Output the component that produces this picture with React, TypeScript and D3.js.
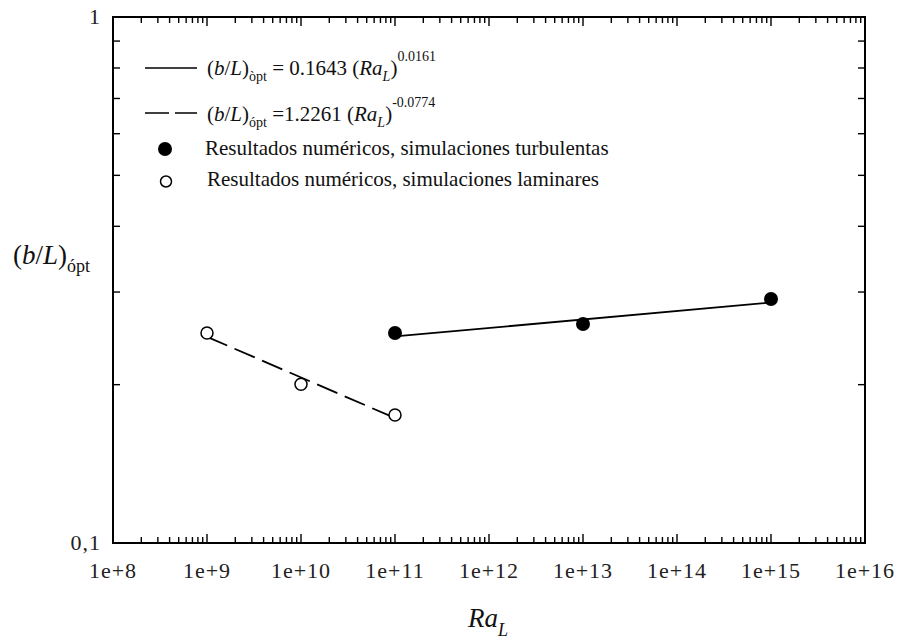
import React from "react";
import * as d3 from "d3";

// ---- data ----
const turbRa = [1e11, 1e13, 1e15];
const turbVal = [0.2507, 0.2609, 0.291];
const lamRa = [1e9, 1e10, 1e11];
const lamVal = [0.2507, 0.2003, 0.1751];
const turbFitRa = [1e11, 1e15];
const turbFitVal = [0.247, 0.2866];
const lamFitRa = [1e9, 1e11];
const lamFitVal = [0.2466, 0.1728];
const xTickValues = [1e8, 1e9, 1e10, 1e11, 1e12, 1e13, 1e14, 1e15, 1e16];
const xTickLabels = ["1e+8", "1e+9", "1e+10", "1e+11", "1e+12", "1e+13", "1e+14", "1e+15", "1e+16"];
const yTickValues = [0.1, 1];
const yTickLabels = ["0,1", "1"];
const legendTurb = "Resultados numéricos, simulaciones turbulentas";
const legendLam = "Resultados numéricos, simulaciones laminares";

const W = 900, H = 640;
const L = 113, R = 865, T = 17, B = 543;
const FONT = "'Liberation Serif', 'Times New Roman', serif";

export default function App() {
  const x = d3.scaleLog().domain([1e8, 1e16]).range([L, R]);
  const y = d3.scaleLog().domain([0.1, 1]).range([B, T]);
  const line = d3.line<[number, number]>().x((d) => x(d[0])).y((d) => y(d[1]));

  const xMinor: number[] = [];
  for (let e = 8; e < 16; e++) for (let k = 2; k <= 9; k++) xMinor.push(k * Math.pow(10, e));
  const yMinor = d3.range(2, 10).map((k) => k / 10);

  const turbFit = line(turbFitRa.map((r, i) => [r, turbFitVal[i]] as [number, number])) || "";
  const lamFit = line(lamFitRa.map((r, i) => [r, lamFitVal[i]] as [number, number])) || "";

  return (
    <svg width={W} height={H} style={{ position: "absolute", left: 0, top: 0, background: "#fff" }} fontFamily={FONT}>
      <rect x={0} y={0} width={W} height={H} fill="#fff" />
      {/* ticks */}
      <g stroke="#000" strokeWidth={1.4}>
        {xMinor.map((v, i) => (
          <g key={"xm" + i}>
            <line x1={x(v)} x2={x(v)} y1={B} y2={B - 6} />
            <line x1={x(v)} x2={x(v)} y1={T} y2={T + 6} />
          </g>
        ))}
        {xTickValues.map((v, i) => (
          <g key={"xM" + i}>
            <line x1={x(v)} x2={x(v)} y1={B} y2={B - 9} />
            <line x1={x(v)} x2={x(v)} y1={T} y2={T + 9} />
          </g>
        ))}
        {yMinor.map((v, i) => (
          <g key={"ym" + i}>
            <line x1={L} x2={L + 7} y1={y(v)} y2={y(v)} />
            <line x1={R} x2={R - 7} y1={y(v)} y2={y(v)} />
          </g>
        ))}
      </g>
      <rect x={L} y={T} width={R - L} height={B - T} fill="none" stroke="#000" strokeWidth={2} />

      {/* tick labels */}
      <g fontSize={22} fill="#222" letterSpacing={1}>
        {xTickValues.map((v, i) => (
          <text key={"xl" + i} x={x(v)} y={578} textAnchor="middle">{xTickLabels[i]}</text>
        ))}
        {yTickValues.map((v, i) => (
          <text key={"yl" + i} x={L - 12} y={y(v) + 7} textAnchor="end">{yTickLabels[i]}</text>
        ))}
      </g>

      {/* fits */}
      <path d={turbFit} fill="none" stroke="#000" strokeWidth={1.8} />
      <path d={lamFit} fill="none" stroke="#000" strokeWidth={1.8} strokeDasharray="22 8" />

      {/* points */}
      {turbRa.map((r, i) => (
        <circle key={"t" + i} cx={x(r)} cy={y(turbVal[i])} r={7} fill="#000" />
      ))}
      {lamRa.map((r, i) => (
        <circle key={"l" + i} cx={x(r)} cy={y(lamVal[i])} r={6} fill="#fff" stroke="#000" strokeWidth={1.5} />
      ))}

      {/* legend */}
      <line x1={145} x2={197} y1={68} y2={68} stroke="#000" strokeWidth={1.5} />
      <text x={207} y={75} fontSize={21} fill="#111">
        <tspan>(</tspan><tspan fontStyle="italic">b</tspan><tspan>/</tspan><tspan fontStyle="italic">L</tspan><tspan>)</tspan>
        <tspan fontSize={14} dy={6}>òpt</tspan>
        <tspan dy={-6}> = 0.1643 (</tspan><tspan fontStyle="italic">Ra</tspan>
        <tspan fontStyle="italic" fontSize={14} dy={6}>L</tspan>
        <tspan dy={-6}>)</tspan>
        <tspan fontSize={14} dy={-14}>0.0161</tspan>
      </text>
      <line x1={145} x2={197} y1={113} y2={113} stroke="#000" strokeWidth={1.5} strokeDasharray="24 6" />
      <text x={207} y={121} fontSize={21} fill="#111">
        <tspan>(</tspan><tspan fontStyle="italic">b</tspan><tspan>/</tspan><tspan fontStyle="italic">L</tspan><tspan>)</tspan>
        <tspan fontSize={14} dy={6}>ópt</tspan>
        <tspan dy={-6}> =1.2261 (</tspan><tspan fontStyle="italic">Ra</tspan>
        <tspan fontStyle="italic" fontSize={14} dy={6}>L</tspan>
        <tspan dy={-6}>)</tspan>
        <tspan fontSize={14} dy={-14}>-0.0774</tspan>
      </text>
      <circle cx={165} cy={149} r={7} fill="#000" />
      <text x={205} y={155} fontSize={21} fill="#111">{legendTurb}</text>
      <circle cx={166} cy={181.5} r={5.5} fill="#fff" stroke="#000" strokeWidth={1.5} />
      <text x={207} y={186} fontSize={21} fill="#111">{legendLam}</text>

      {/* axis titles */}
      <text x={13} y={264} fontSize={27} fill="#111">
        <tspan>(</tspan><tspan fontStyle="italic">b</tspan><tspan>/</tspan><tspan fontStyle="italic">L</tspan><tspan>)</tspan>
        <tspan fontSize={18} dy={8}>ópt</tspan>
      </text>
      <text x={468} y={627} fontSize={27} fill="#111">
        <tspan fontStyle="italic">Ra</tspan>
        <tspan fontStyle="italic" fontSize={18} dy={9}>L</tspan>
      </text>
    </svg>
  );
}
